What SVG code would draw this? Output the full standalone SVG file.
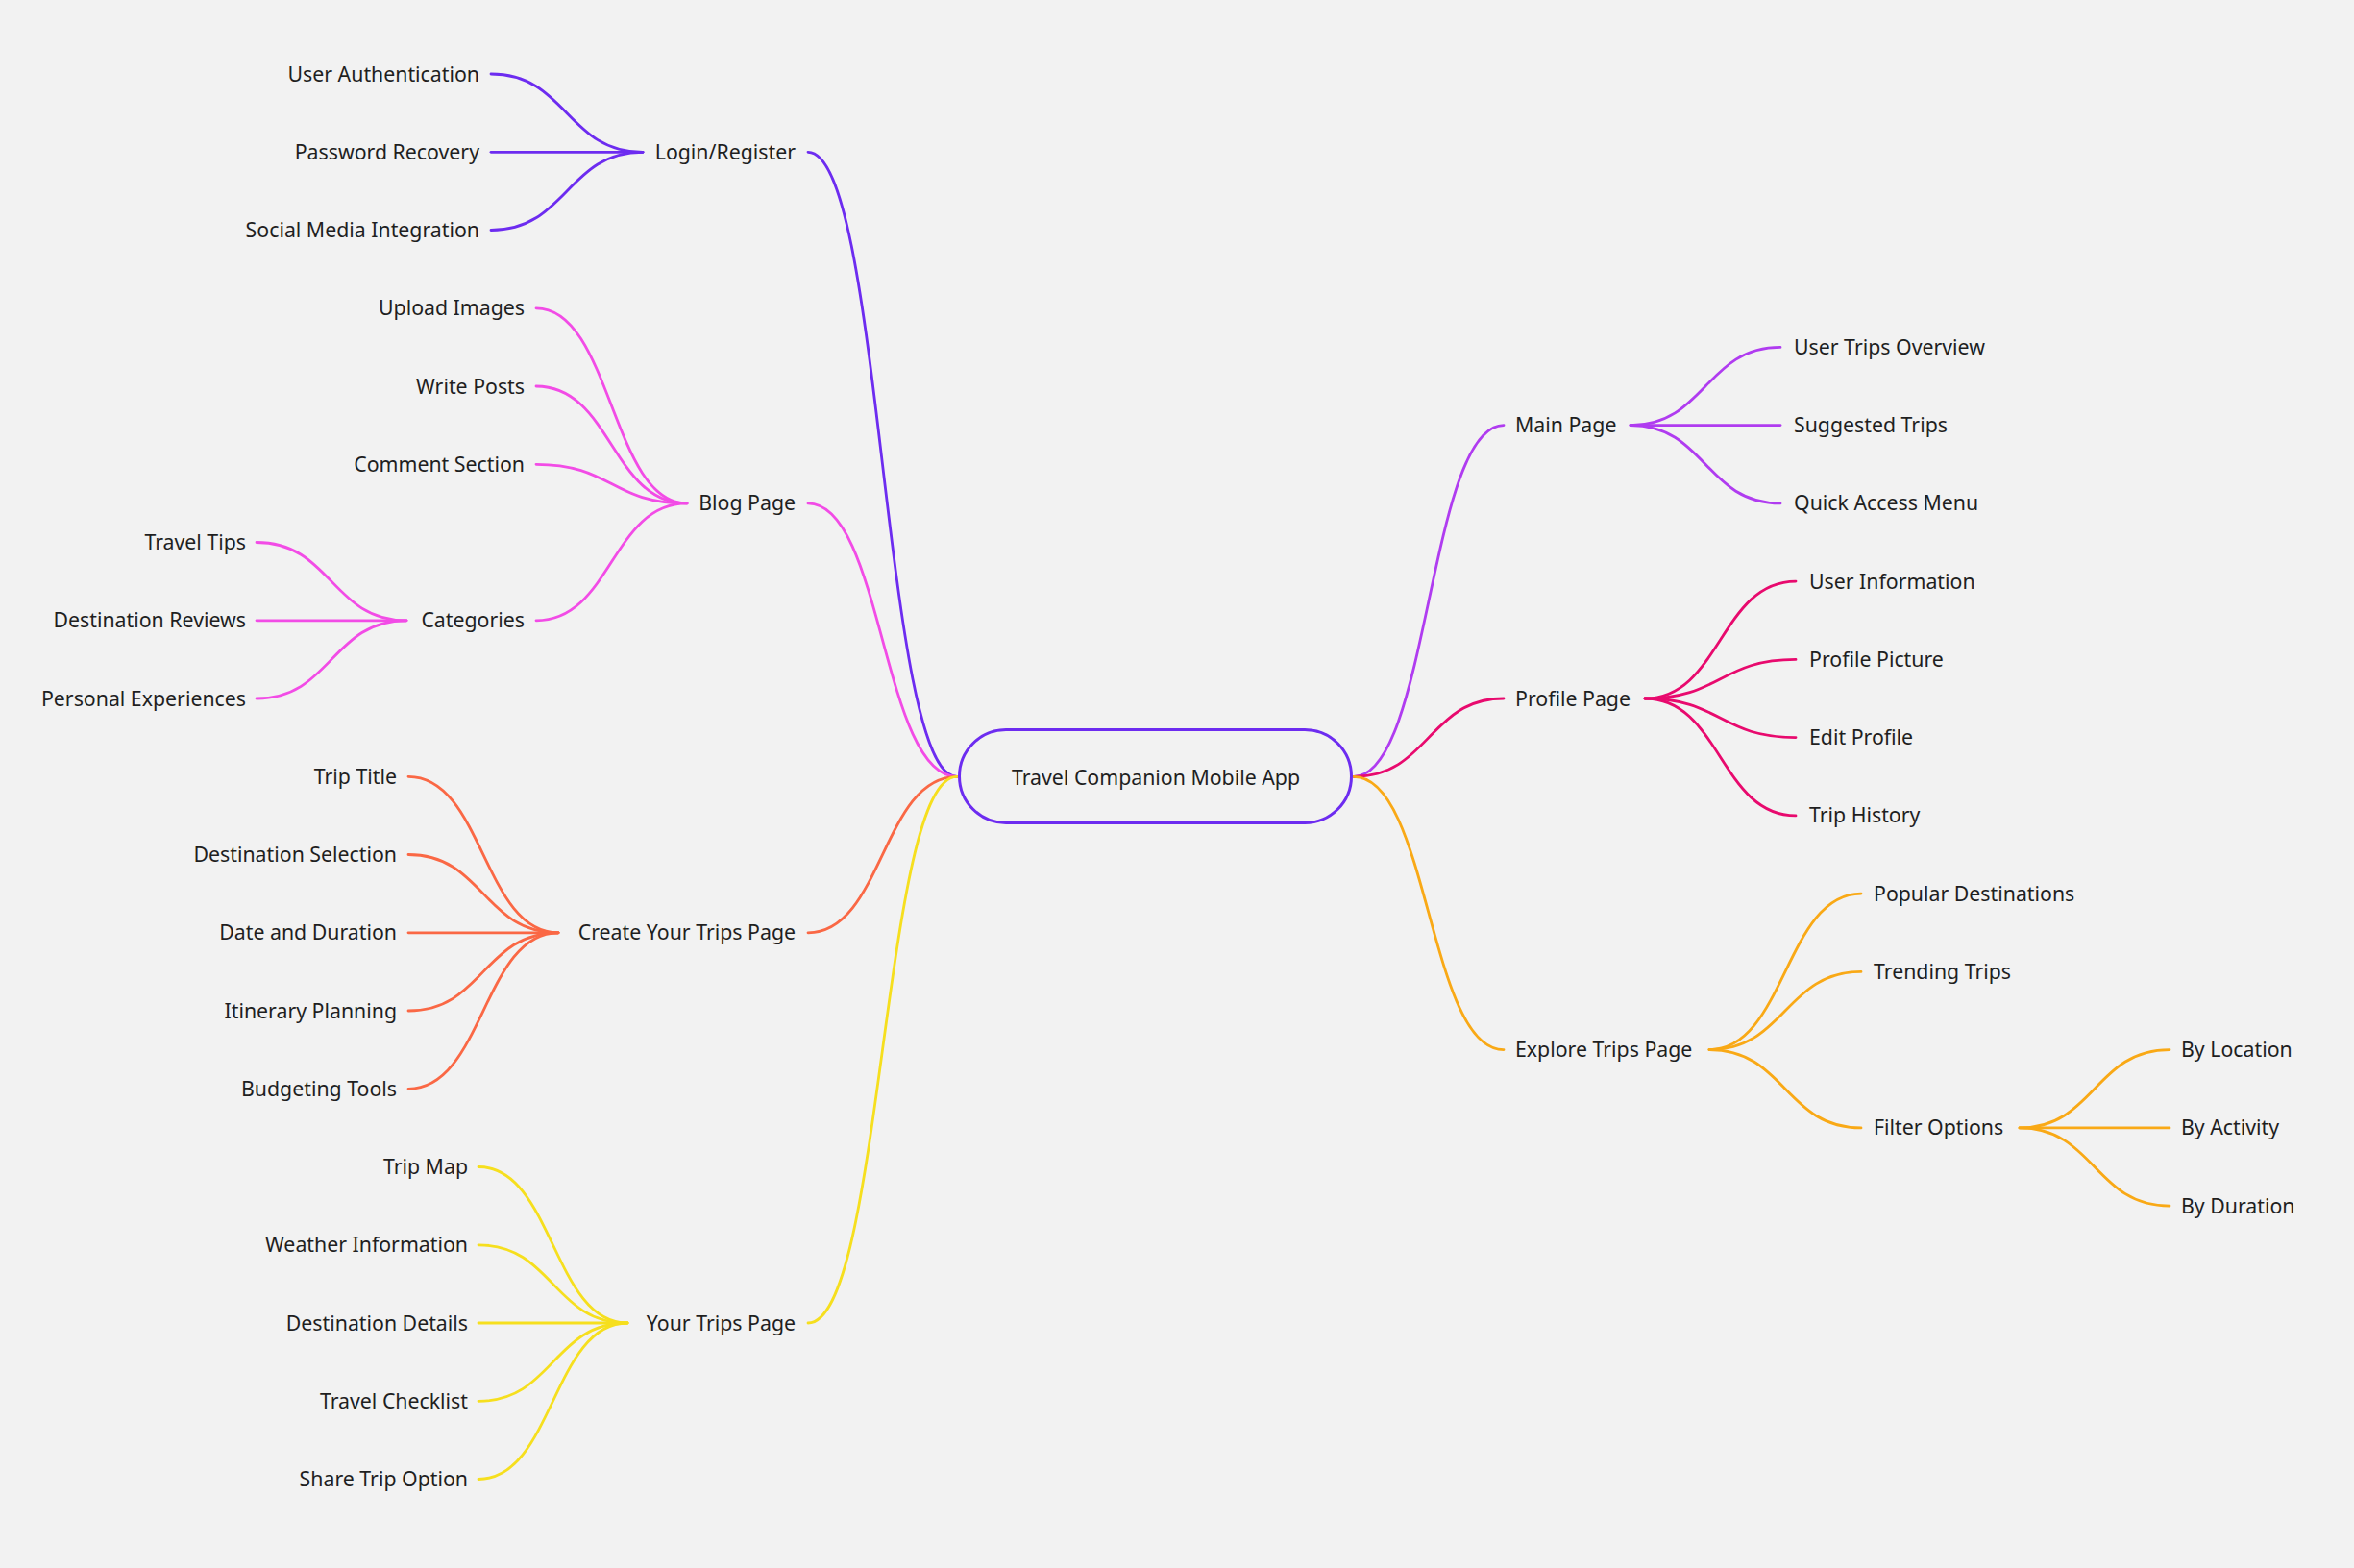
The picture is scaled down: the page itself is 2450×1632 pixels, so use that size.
<svg xmlns="http://www.w3.org/2000/svg" width="2450" height="1632" viewBox="0 0 2450 1632">
<style>
text{font-family:"Noto Sans","Open Sans","Liberation Sans",sans-serif;font-size:21.3px;fill:#1f1f1f}
.e{text-anchor:end}.s{text-anchor:start}.m{text-anchor:middle}
path{fill:none;stroke-width:2.8;stroke-linecap:round}
.c1{stroke:#6d2cf0}.c2{stroke:#f24ce6}.c3{stroke:#fa6845}.c4{stroke:#f6df1e}
.c5{stroke:#b03cf0}.c6{stroke:#e80a6e}.c7{stroke:#f9a916}
</style>
<rect width="2450" height="1632" fill="#f2f2f2"/>
<g id="connectors">
<path class="c1" d="M841,158.3 C918.5,158.3 918.5,808.3 996,808.3"/>
<path class="c2" d="M841,523.9 C918.5,523.9 918.5,808.3 996,808.3"/>
<path class="c3" d="M841,970.8 C918.5,970.8 918.5,808.3 996,808.3"/>
<path class="c4" d="M841,1377 C918.5,1377 918.5,808.3 996,808.3"/>
<path class="c5" d="M1409,808.3 C1487,808.3 1487,442.6 1565,442.6"/>
<path class="c6" d="M1409,808.3 C1487,808.3 1487,727 1565,727"/>
<path class="c7" d="M1409,808.3 C1487,808.3 1487,1092.6 1565,1092.6"/>
<path class="c1" d="M669,158.3 C590,158.3 590,77 511,77"/>
<path class="c1" d="M669,158.3 L511,158.3"/>
<path class="c1" d="M669,158.3 C590,158.3 590,239.5 511,239.5"/>
<path class="c2" d="M715,523.9 C636.5,523.9 636.5,320.8 558,320.8"/>
<path class="c2" d="M715,523.9 C636.5,523.9 636.5,402 558,402"/>
<path class="c2" d="M715,523.9 C636.5,523.9 636.5,483.3 558,483.3"/>
<path class="c2" d="M715,523.9 C636.5,523.9 636.5,645.8 558,645.8"/>
<path class="c2" d="M423,645.8 C345,645.8 345,564.5 267,564.5"/>
<path class="c2" d="M423,645.8 L267,645.8"/>
<path class="c2" d="M423,645.8 C345,645.8 345,727 267,727"/>
<path class="c3" d="M581,970.8 C503,970.8 503,808.3 425,808.3"/>
<path class="c3" d="M581,970.8 C503,970.8 503,889.5 425,889.5"/>
<path class="c3" d="M581,970.8 L425,970.8"/>
<path class="c3" d="M581,970.8 C503,970.8 503,1052 425,1052"/>
<path class="c3" d="M581,970.8 C503,970.8 503,1133.3 425,1133.3"/>
<path class="c4" d="M653,1377 C575.5,1377 575.5,1214.5 498,1214.5"/>
<path class="c4" d="M653,1377 C575.5,1377 575.5,1295.8 498,1295.8"/>
<path class="c4" d="M653,1377 L498,1377"/>
<path class="c4" d="M653,1377 C575.5,1377 575.5,1458.3 498,1458.3"/>
<path class="c4" d="M653,1377 C575.5,1377 575.5,1539.5 498,1539.5"/>
<path class="c5" d="M1697,442.6 C1775,442.6 1775,361.4 1853,361.4"/>
<path class="c5" d="M1697,442.6 L1853,442.6"/>
<path class="c5" d="M1697,442.6 C1775,442.6 1775,523.9 1853,523.9"/>
<path class="c6" d="M1712,727 C1790.5,727 1790.5,605.1 1869,605.1"/>
<path class="c6" d="M1712,727 C1790.5,727 1790.5,686.4 1869,686.4"/>
<path class="c6" d="M1712,727 C1790.5,727 1790.5,767.6 1869,767.6"/>
<path class="c6" d="M1712,727 C1790.5,727 1790.5,848.9 1869,848.9"/>
<path class="c7" d="M1779,1092.6 C1858,1092.6 1858,930.1 1937,930.1"/>
<path class="c7" d="M1779,1092.6 C1858,1092.6 1858,1011.4 1937,1011.4"/>
<path class="c7" d="M1779,1092.6 C1858,1092.6 1858,1173.9 1937,1173.9"/>
<path class="c7" d="M2102,1173.9 C2180,1173.9 2180,1092.6 2258,1092.6"/>
<path class="c7" d="M2102,1173.9 L2258,1173.9"/>
<path class="c7" d="M2102,1173.9 C2180,1173.9 2180,1255.1 2258,1255.1"/>
</g>
<g id="root"><rect x="998.5" y="759.5" width="408" height="97" rx="48.5" fill="#f2f2f2" stroke="#6d2cf0" stroke-width="3"/><text class="m" x="1203" y="816.5">Travel Companion Mobile App</text></g>
<g id="login"><text class="e" x="828" y="165.8">Login/Register</text></g>
<g id="login-auth"><text class="e" x="499" y="84.5">User Authentication</text></g>
<g id="login-pass"><text class="e" x="499" y="165.8">Password Recovery</text></g>
<g id="login-social"><text class="e" x="499" y="247">Social Media Integration</text></g>
<g id="blog"><text class="e" x="828" y="531.4">Blog Page</text></g>
<g id="blog-upload"><text class="e" x="546" y="328.3">Upload Images</text></g>
<g id="blog-write"><text class="e" x="546" y="409.5">Write Posts</text></g>
<g id="blog-comment"><text class="e" x="546" y="490.8">Comment Section</text></g>
<g id="blog-categories"><text class="e" x="546" y="653.3">Categories</text></g>
<g id="cat-tips"><text class="e" x="256" y="572">Travel Tips</text></g>
<g id="cat-reviews"><text class="e" x="256" y="653.3">Destination Reviews</text></g>
<g id="cat-exp"><text class="e" x="256" y="734.5">Personal Experiences</text></g>
<g id="create"><text class="e" x="828" y="978.3">Create Your Trips Page</text></g>
<g id="create-title"><text class="e" x="413" y="815.8">Trip Title</text></g>
<g id="create-dest"><text class="e" x="413" y="897">Destination Selection</text></g>
<g id="create-date"><text class="e" x="413" y="978.3">Date and Duration</text></g>
<g id="create-itin"><text class="e" x="413" y="1059.5">Itinerary Planning</text></g>
<g id="create-budget"><text class="e" x="413" y="1140.8">Budgeting Tools</text></g>
<g id="yours"><text class="e" x="828" y="1384.5">Your Trips Page</text></g>
<g id="yours-map"><text class="e" x="487" y="1222">Trip Map</text></g>
<g id="yours-weather"><text class="e" x="487" y="1303.3">Weather Information</text></g>
<g id="yours-dest"><text class="e" x="487" y="1384.5">Destination Details</text></g>
<g id="yours-check"><text class="e" x="487" y="1465.8">Travel Checklist</text></g>
<g id="yours-share"><text class="e" x="487" y="1547">Share Trip Option</text></g>
<g id="main"><text class="s" x="1577" y="450.1">Main Page</text></g>
<g id="main-overview"><text class="s" x="1867" y="368.9">User Trips Overview</text></g>
<g id="main-suggested"><text class="s" x="1867" y="450.1">Suggested Trips</text></g>
<g id="main-quick"><text class="s" x="1867" y="531.4">Quick Access Menu</text></g>
<g id="profile"><text class="s" x="1577" y="734.5">Profile Page</text></g>
<g id="profile-info"><text class="s" x="1883" y="612.6">User Information</text></g>
<g id="profile-pic"><text class="s" x="1883" y="693.9">Profile Picture</text></g>
<g id="profile-edit"><text class="s" x="1883" y="775.1">Edit Profile</text></g>
<g id="profile-history"><text class="s" x="1883" y="856.4">Trip History</text></g>
<g id="explore"><text class="s" x="1577" y="1100.1">Explore Trips Page</text></g>
<g id="explore-popular"><text class="s" x="1950" y="937.6">Popular Destinations</text></g>
<g id="explore-trending"><text class="s" x="1950" y="1018.9">Trending Trips</text></g>
<g id="explore-filter"><text class="s" x="1950" y="1181.4">Filter Options</text></g>
<g id="filter-location"><text class="s" x="2270" y="1100.1">By Location</text></g>
<g id="filter-activity"><text class="s" x="2270" y="1181.4">By Activity</text></g>
<g id="filter-duration"><text class="s" x="2270" y="1262.6">By Duration</text></g>
</svg>
